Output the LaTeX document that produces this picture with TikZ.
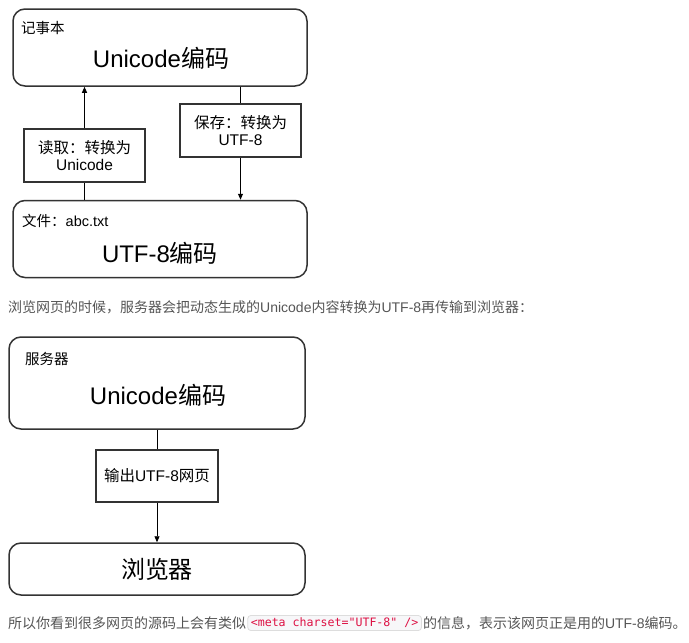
\documentclass[tikz,border=0pt]{standalone}
\usepackage{fontspec}
\setmainfont{Liberation Sans}
\newfontfamily\cjk{Noto Sans CJK SC}
\newfontfamily\monof{DejaVu Sans Mono}
\usetikzlibrary{arrows.meta}
\definecolor{boxc}{HTML}{333333}
\definecolor{parac}{HTML}{555555}
\definecolor{codec}{HTML}{DD1144}
\definecolor{codebg}{HTML}{F7F7F9}
\definecolor{codebd}{HTML}{DDDDDD}
\begin{document}
\begin{tikzpicture}[x=1pt,y=-1pt,
  bigbox/.style={draw=boxc, line width=1.5pt, rounded corners=12pt, fill=white, inner sep=0pt},
  convbox/.style={draw=boxc, line width=1.4pt, fill=white, inner sep=0pt, align=center,
    font=\fontsize{15.5}{17.5}\selectfont},
  lbl/.style={font=\fontsize{14.5}{17}\selectfont, anchor=west, inner sep=0pt},
  big/.style={font=\fontsize{24}{28}\selectfont, inner sep=0pt},
  arr/.style={-{Triangle[length=6pt,width=5pt]}, line width=0.9pt},
  plain/.style={line width=0.9pt},
  para/.style={font=\fontsize{14}{16}\selectfont, text=parac, inner sep=0pt, anchor=west},
  codebox/.style={draw=codebd, fill=codebg, rounded corners=3pt, line width=0.8pt,
    inner xsep=3pt, inner ysep=0pt, minimum height=15pt, text=codec,
    font=\monof\fontsize{11.6}{13}\selectfont, anchor=west}]
\useasboundingbox (0,0) rectangle (689,643);

% ---- first diagram ----
\node[bigbox, minimum width=294pt, minimum height=77pt] (np) at (160,47.5) {};
\node[lbl] (nplbl) at (21,28) {\cjk 记事本};
\node[big] (nptxt) at (161,58) {Unicode{\cjk 编码}};

\node[bigbox, minimum width=294pt, minimum height=77pt] (file) at (160,239) {};
\node[lbl] (filelbl) at (22,221) {{\cjk 文件：}abc.txt};
\node[big] (filetxt) at (160,253) {UTF-8{\cjk 编码}};

\node[convbox, minimum width=121pt, minimum height=53pt] (rd) at (84.5,155.5) {{\cjk 读取：转换为}\\Unicode};
\node[convbox, minimum width=121pt, minimum height=53pt] (sv) at (240.5,130.5) {{\cjk 保存：转换为}\\UTF-8};

\draw[plain] (file.north -| rd.center) -- (rd.south);
\draw[arr] (rd.north) -- (np.south -| rd.center);
\draw[plain] (np.south -| sv.center) -- (sv.north);
\draw[arr] (sv.south) -- (file.north -| sv.center);

% ---- paragraph ----
\node[para] (para1) at (8,307) {{\cjk 浏览网页的时候，服务器会把动态生成的}Unicode{\cjk 内容转换为}UTF-8{\cjk 再传输到浏览器：}};

% ---- second diagram ----
\node[bigbox, minimum width=296pt, minimum height=92pt] (srv) at (157,383) {};
\node[lbl] (srvlbl) at (25,359) {\cjk 服务器};
\node[big] (srvtxt) at (158,395) {Unicode{\cjk 编码}};

\node[convbox, minimum width=122pt, minimum height=52pt] (out) at (157,476) {{\cjk 输出}UTF-8{\cjk 网页}};

\node[bigbox, minimum width=296pt, minimum height=52pt] (br) at (157,569) {};
\node[big] (brtxt) at (157,569) {\cjk 浏览器};

\draw[plain] (srv.south -| out.center) -- (out.north);
\draw[arr] (out.south) -- (br.north -| out.center);

% ---- bottom line ----
\node[para] (p1) at (8,623) {\cjk 所以你看到很多网页的源码上会有类似};
\node[codebox] (code) at ([xshift=1pt]p1.east) {<meta charset="UTF-8" />};
\node[para] (p2) at ([xshift=1pt]code.east) {{\cjk 的信息，表示该网页正是用的}UTF-8{\cjk 编码。}};
\end{tikzpicture}
\end{document}
